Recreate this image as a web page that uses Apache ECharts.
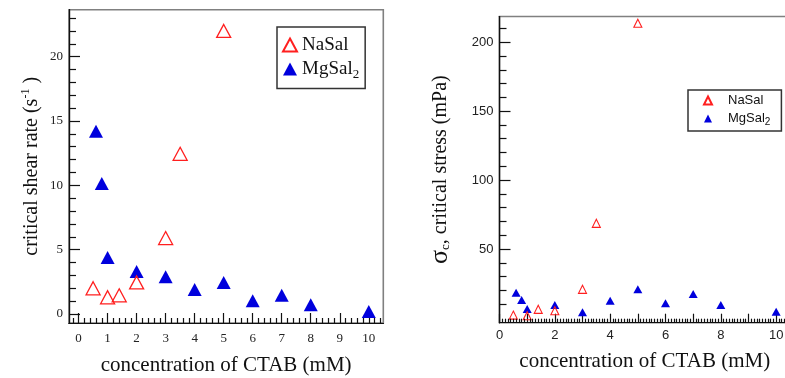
<!DOCTYPE html>
<html><head><meta charset="utf-8">
<script src="https://cdn.jsdelivr.net/npm/echarts@6/dist/echarts.min.js"></script>
<style>html,body{margin:0;padding:0;background:#fff}#c{width:785px;height:378px}</style>
</head><body><div id="c"></div>
<script>
// ---- data ----
const naSalX = [0.5, 1, 1.4, 2, 3, 3.5, 5];
const naSalRate = [2.0, 1.3, 1.45, 2.45, 5.9, 12.45, 22.0];
const naSalStress = [2.0, 1.5, 6.2, 5.2, 20.7, 68.6, 213.8];
const mgSalX = [0.6, 0.8, 1, 2, 3, 4, 5, 6, 7, 8, 10];
const mgSalRate = [14.2, 10.15, 4.4, 3.3, 2.9, 1.9, 2.45, 1.03, 1.45, 0.72, 0.2];
const mgSalStress = [18.3, 13.0, 6.5, 9.4, 4.0, 12.5, 20.7, 10.6, 17.3, 9.4, 4.5];
// tick labels
const leftXLabels = [0, 1, 2, 3, 4, 5, 6, 7, 8, 9, 10];
const leftYLabels = [0, 5, 10, 15, 20];
const rightXTicks = [0, 1, 2, 3, 4, 5, 6, 7, 8, 9, 10];
const rightXLabels = [0, 2, 4, 6, 8, 10];
const rightYLabels = [50, 100, 150, 200];

// minor tick positions
function steps(a, b, s, skip) {
  const out = [];
  for (let i = 0; a + i * s <= b + 1e-9; i++) {
    const v = Math.round((a + i * s) * 1000) / 1000;
    if (!skip || !skip.includes(v)) out.push(v);
  }
  return out;
}
const leftXMinor = steps(-0.2, 10.4, 0.2, leftXLabels);
const leftYMinor = steps(1, 23, 1, leftYLabels);
const rightXMinor = steps(0.1, 10.4, 0.1, rightXTicks);
const rightYMinor = steps(10, 210, 10, rightYLabels);

const zip = (xs, ys) => xs.map((x, i) => [x, ys[i]]);

const RED = '#ff1f1f', BLUE = '#0000dd';
const serif = 'Liberation Serif', sans = 'Liberation Sans';

const L = { left: 69, top: 9.7, width: 314.3, height: 313.3 };
const R = { left: 499.5, top: 16.5, width: 290.5, height: 306.2 };
const LX = [-0.33, 10.5], LY = [-0.7, 23.65], RX = [0, 10.5], RY = [-3.5, 218.7];

function mainAxis(o) {
  return Object.assign({
    type: 'value', splitLine: { show: false },
    axisLine: { show: true, onZero: false, lineStyle: { color: '#111', width: 1.2 } },
    nameMoveOverlap: false
  }, o);
}
function minorAxis(o, vals, len) {
  return Object.assign({
    type: 'value', splitLine: { show: false }, z: 5,
    axisLine: { show: true, onZero: false, lineStyle: { color: '#111', width: 1.2 } },
    axisLabel: { show: false },
    axisTick: { show: true, inside: true, length: len, customValues: vals, lineStyle: { color: '#111', width: 1.2 } }
  }, o);
}
const gridBase = { outerBoundsMode: 'none', containLabel: false };

const chart = echarts.init(document.getElementById('c'));
chart.setOption({
  animation: false,
  grid: [
    Object.assign({ show: true, borderColor: '#808080', borderWidth: 1.6 }, gridBase, L),
    Object.assign({ show: true, borderColor: '#808080', borderWidth: 1.6 }, gridBase, R),
    Object.assign({ show: false }, gridBase, L),
    Object.assign({ show: false }, gridBase, R)
  ],
  xAxis: [
    mainAxis({ gridIndex: 0, position: 'bottom', min: LX[0], max: LX[1],
      axisTick: { show: true, inside: true, length: 10, customValues: leftXLabels, lineStyle: { color: '#111', width: 1.2 } },
      axisLabel: { customValues: leftXLabels, margin: 9, fontFamily: serif, fontSize: 13, color: '#222' },
      name: 'concentration of CTAB (mM)', nameLocation: 'middle', nameGap: 32,
      nameTextStyle: { fontFamily: serif, fontSize: 21, color: '#111' } }),
    mainAxis({ gridIndex: 1, position: 'bottom', min: RX[0], max: RX[1],
      axisTick: { show: true, inside: true, length: 9, customValues: rightXTicks, lineStyle: { color: '#111', width: 1.2 } },
      axisLabel: { customValues: rightXLabels, margin: 6, fontFamily: sans, fontSize: 13, color: '#222' },
      name: 'concentration of CTAB (mM)', nameLocation: 'middle', nameGap: 28,
      nameTextStyle: { fontFamily: serif, fontSize: 21, color: '#111' } }),
    minorAxis({ gridIndex: 2, position: 'bottom', min: LX[0], max: LX[1] }, leftXMinor, 5),
    minorAxis({ gridIndex: 3, position: 'bottom', min: RX[0], max: RX[1] }, rightXMinor, 4)
  ],
  yAxis: [
    mainAxis({ gridIndex: 0, position: 'left', min: LY[0], max: LY[1],
      axisTick: { show: true, inside: true, length: 11, customValues: leftYLabels, lineStyle: { color: '#111', width: 1.2 } },
      axisLabel: { customValues: leftYLabels, margin: 6, fontFamily: serif, fontSize: 13, color: '#222' },
      name: 'critical shear rate (s{sup|-1} )', nameLocation: 'middle', nameGap: 25,
      nameTextStyle: { fontFamily: serif, fontSize: 20, color: '#111',
        rich: { sup: { fontFamily: serif, fontSize: 12, padding: [0, 0, 12, 0], color: '#111' } } } }),
    mainAxis({ gridIndex: 1, position: 'left', min: RY[0], max: RY[1],
      axisTick: { show: true, inside: true, length: 11, customValues: rightYLabels, lineStyle: { color: '#111', width: 1.2 } },
      axisLabel: { customValues: rightYLabels, margin: 6, fontFamily: sans, fontSize: 13, color: '#222' },
      name: '{sig|σ}{sub|c}, critical stress (mPa)', nameLocation: 'middle', nameGap: 46,
      nameTextStyle: { fontFamily: serif, fontSize: 20, color: '#111',
        rich: { sig: { fontFamily: serif, fontSize: 26, color: '#111' },
                sub: { fontFamily: serif, fontSize: 13, padding: [10, 0, 0, 0], color: '#111' } } } }),
    minorAxis({ gridIndex: 2, position: 'left', min: LY[0], max: LY[1] }, leftYMinor, 7),
    minorAxis({ gridIndex: 3, position: 'left', min: RY[0], max: RY[1] }, rightYMinor, 7)
  ],
  legend: [
    { left: 277, top: 27, orient: 'vertical', padding: [8, 6, 7, 5], itemGap: 4,
      itemWidth: 14, itemHeight: 13, borderColor: '#333', borderWidth: 1.5,
      data: ['NaSal', 'MgSal₂'],
      formatter: n => n === 'MgSal₂' ? 'MgSal{sub|2}' : n,
      textStyle: { fontFamily: serif, fontSize: 19, lineHeight: 20, color: '#111',
        rich: { sub: { fontFamily: serif, fontSize: 13, padding: [12, 0, 0, 0], color: '#111' } } } },
    { left: 688, top: 90, orient: 'vertical', padding: [3, 11, 4, 15], itemGap: 3,
      itemWidth: 8, itemHeight: 8, borderColor: '#333', borderWidth: 1.5,
      data: ['NaSal ', 'MgSal₂ '],
      formatter: n => n === 'MgSal₂ ' ? 'MgSal{sub|2}' : 'NaSal',
      textStyle: { fontFamily: sans, fontSize: 13, lineHeight: 15, color: '#111', padding: [0, 0, 0, 11],
        rich: { sub: { fontFamily: sans, fontSize: 10, padding: [7, 0, 0, 0], color: '#111' } } } }
  ],
  series: [
    { name: 'NaSal', type: 'scatter', xAxisIndex: 0, yAxisIndex: 0, symbol: 'triangle', symbolSize: [14, 13],
      itemStyle: { color: 'rgba(255,255,255,0)', borderColor: RED, borderWidth: 1.3, opacity: 1 }, data: zip(naSalX, naSalRate), z: 3 },
    { name: 'MgSal₂', type: 'scatter', xAxisIndex: 0, yAxisIndex: 0, symbol: 'triangle', symbolSize: [14, 13],
      itemStyle: { color: BLUE, opacity: 1 }, data: zip(mgSalX, mgSalRate), z: 2 },
    { name: 'NaSal ', type: 'scatter', xAxisIndex: 1, yAxisIndex: 1, symbol: 'triangle', symbolSize: [8, 8],
      itemStyle: { color: 'rgba(255,255,255,0)', borderColor: RED, borderWidth: 1.1, opacity: 1 }, data: zip(naSalX, naSalStress), z: 3 },
    { name: 'MgSal₂ ', type: 'scatter', xAxisIndex: 1, yAxisIndex: 1, symbol: 'triangle', symbolSize: [9, 8],
      itemStyle: { color: BLUE, opacity: 1 }, data: zip(mgSalX, mgSalStress), z: 2 }
  ]
});
</script></body></html>
